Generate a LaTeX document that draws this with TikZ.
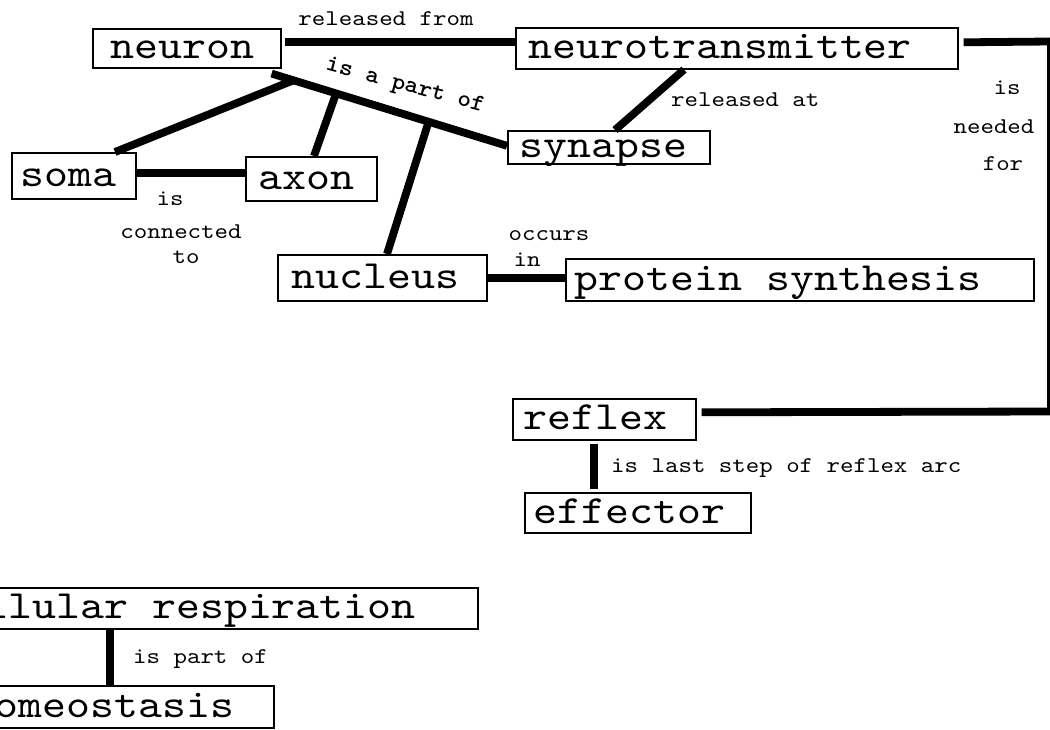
\documentclass[tikz,border=0pt]{standalone}
\usepackage{fontspec}
\usetikzlibrary{calc}
\newfontfamily\courbig{lmmono10-regular}[Extension=.otf, FakeStretch=1.14]
\newfontfamily\coursmall{lmmono10-regular}[Extension=.otf, FakeStretch=1.14]
\newfontfamily\courbold{lmmonolt10-bold}[Extension=.otf, FakeStretch=1.08]
\newcommand\bigtxt{\courbig\fontsize{40}{42}\selectfont}
\newcommand\smalltxt{\coursmall\fontsize{22.5}{24}\selectfont}
\newcommand\wsp{\hspace{23.94pt}}
\tikzset{
  box/.style={draw, line width=1.6pt, anchor=north west, font=\bigtxt, align=left,
    inner ysep=0pt, text height=21pt, text depth=0pt},
  conn/.style={line width=7.8pt},
  lbl/.style={font=\smalltxt, inner sep=0pt, anchor=base},
  lblw/.style={font=\smalltxt, inner sep=0pt, anchor=base west},
}
\begin{document}
\begin{tikzpicture}[x=1pt,y=-1pt]
\clip (0,0) rectangle (1050,729);
\useasboundingbox (0,0) rectangle (1050,729);
% boxes
\node[box, inner xsep=18pt, text width=152pt, minimum height=39pt] (neuron) at (92,28) {neuron};
\node[box, inner xsep=13pt, text width=416pt, minimum height=41pt] (nt) at (515,27) {neurotransmitter};
\node[box, inner xsep=12pt, text width=178pt, minimum height=33pt] (synapse) at (507,130) {synapse};
\node[box, inner xsep=9pt, text width=106pt, minimum height=46pt] (soma) at (11,152) {soma};
\node[box, inner xsep=13pt, text width=105pt, minimum height=44pt] (axon) at (245,156) {axon};
\node[box, inner xsep=14pt, text width=181pt, minimum height=46pt] (nucleus) at (277,254) {nucleus};
\node[box, inner xsep=9pt, text width=450pt, minimum height=42pt] (protein) at (565,258) {protein\wsp synthesis};
\node[box, inner xsep=11pt, text width=161pt, minimum height=41pt] (reflex) at (512,398) {reflex};
\node[box, inner xsep=9pt, text width=208pt, minimum height=40pt] (effector) at (524,492) {effector};
\node[box, inner xsep=4pt, text width=537pt, minimum height=41pt] (cell) at (-68,587) {cellular\wsp respiration};
\node[box, inner xsep=10pt, text width=293pt, minimum height=42pt] (homeo) at (-40,685) {homeostasis};
% connectors
\draw[conn] ([xshift=3pt,yshift=6.5pt]neuron.east) -- ([yshift=6.5pt]nt.west);
\draw[conn] ([xshift=-10pt,yshift=-5pt]neuron.south east) coordinate (pA) -- ([yshift=1.5pt]synapse.west) coordinate (pB);
\draw[conn] ($(pA)!0.093!(pB)$) -- ([xshift=104pt]soma.north west);
\draw[conn] ($(pA)!0.274!(pB)$) -- ([xshift=69pt]axon.north west);
\draw[conn] ($(pA)!0.667!(pB)$) -- ([xshift=110pt]nucleus.north west);
\draw[conn] ([xshift=169pt]nt.south west) -- ([xshift=108pt]synapse.north west);
\draw[conn] ([yshift=3pt]soma.east) -- ([yshift=6pt]axon.west);
\draw[conn] (nucleus.east) -- ([yshift=2pt]protein.west);
\coordinate (c1) at (1050,41.5);
\coordinate (c2) at (1050,411.5);
\draw[conn] ([xshift=5pt,yshift=6pt]nt.east) -- (c1);
\draw[line width=3pt] ([xshift=-1.5pt,yshift=3.9pt]c1) -- ([xshift=-1.5pt,yshift=-3.9pt]c2);
\draw[conn] (c2) -- ([xshift=5pt,yshift=7pt]reflex.east);
\draw[conn] ([xshift=82pt,yshift=-3pt]reflex.south west) -- ([xshift=70pt,yshift=3pt]effector.north west);
\draw[conn] ([xshift=178pt]cell.south west) -- ([xshift=150pt,yshift=-2pt]homeo.north west);
% labels
\node[lbl] (l1) at (386,25) {released from};
\node[lblw] (l2) at (671,106) {released at};
\node[lbl] (l3a) at (1007,94) {is};
\node[lbl] (l3b) at (994,133) {needed};
\node[lbl] (l3c) at (1003,170) {for};
\node[lbl] (l4a) at (170,205) {is};
\node[lbl] (l4b) at (181,238) {connected};
\node[lbl] (l4c) at (186,263) {to};
\node[lbl] (l5a) at (549,240) {occurs};
\node[lbl] (l5b) at (527,266) {in};
\node[lblw] (l6) at (611,472) {is last step of reflex arc};
\node[lblw] (l7) at (133,663) {is part of};
\node[font=\courbold\fontsize{24}{26}\selectfont, inner sep=0pt, rotate=-15] (l8) at (405,86) {is a part of};
\end{tikzpicture}
\end{document}
